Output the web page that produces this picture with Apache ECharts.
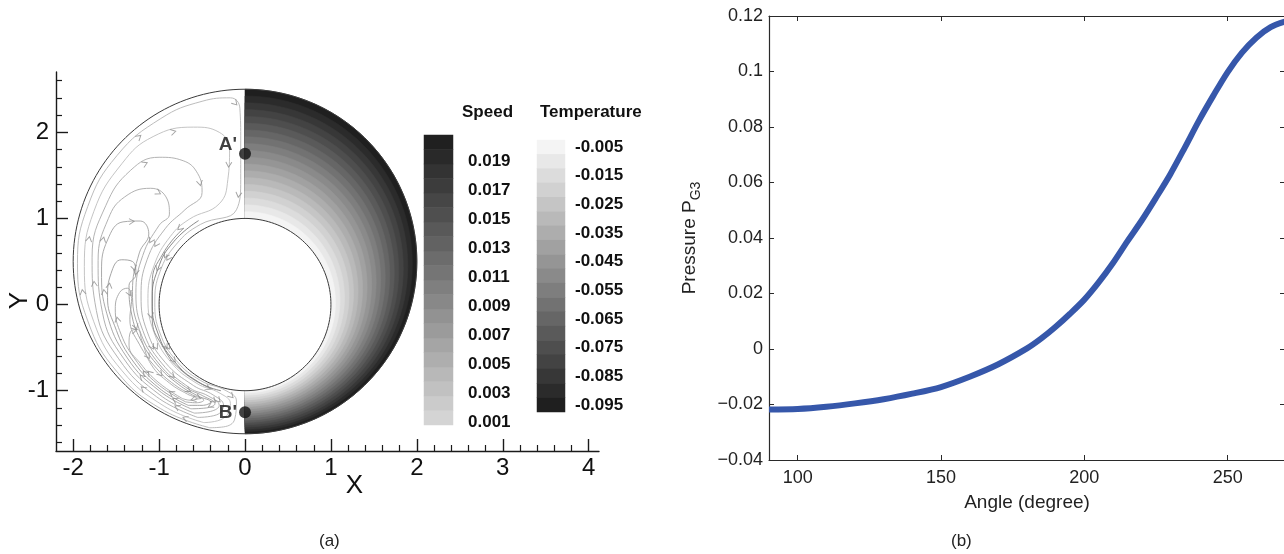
<!DOCTYPE html>
<html>
<head>
<meta charset="utf-8">
<title>Speed / temperature field and pressure P_G3</title>
<script src="https://cdn.jsdelivr.net/npm/echarts@6/dist/echarts.min.js"></script>
<style>
  html, body { margin: 0; padding: 0; background: #fff; }
  #chart { width: 1284px; height: 554px; }
</style>
</head>
<body>
<div id="chart"></div>
<script>
// annulus walls (data units): outer and inner cylinder
const outerWall = { cx: 0, cy: 0.5, r: 2 };
const innerWall = { cx: 0, cy: 0, r: 1 };

// temperature contour levels, lightest (inner wall) to darkest (outer wall)
const tempLevels = [-0.005, -0.010, -0.015, -0.020, -0.025, -0.030, -0.035, -0.040, -0.045, -0.050,
  -0.055, -0.060, -0.065, -0.070, -0.075, -0.080, -0.085, -0.090, -0.095];
// speed colour levels, bottom to top
const speedLevels = [0.001, 0.002, 0.003, 0.004, 0.005, 0.006, 0.007, 0.008, 0.009, 0.010,
  0.011, 0.012, 0.013, 0.014, 0.015, 0.016, 0.017, 0.018, 0.019, 0.020];

// closed streamlines in the left half (x, y)
const streamLoops = [
  [[-0.41, -1.43], [-0.98, -1.21], [-1.49, -0.78], [-1.83, -0.19], [-1.95, 0.48], [-1.83, 1.14],
   [-1.49, 1.73], [-0.98, 2.16], [-0.5, 2.36], [-0.17, 2.4], [-0.06, 2.28], [-0.05, 1.9],
   [-0.05, 1.45], [-0.1, 1.1], [-0.52, 0.93], [-0.8, 0.7], [-0.99, 0.38],
   [-1.05, 0.02], [-0.99, -0.33], [-0.8, -0.65], [-0.52, -0.88], [-0.22, -1.0], [-0.1, -1.12],
   [-0.12, -1.33], [-0.25, -1.42]],
  [[-0.48, -1.37], [-0.94, -1.18], [-1.43, -0.77], [-1.76, -0.2], [-1.87, 0.44], [-1.76, 1.08],
   [-1.43, 1.64], [-1.07, 1.95], [-0.6, 2.06], [-0.3, 2.0], [-0.18, 1.8], [-0.2, 1.45],
   [-0.3, 1.17], [-0.65, 0.99], [-0.87, 0.79], [-1.06, 0.45], [-1.13, 0.07], [-1.06, -0.32],
   [-0.87, -0.66], [-0.57, -0.91], [-0.29, -1.03], [-0.17, -1.15], [-0.25, -1.32]],
  [[-0.55, -1.31], [-1.03, -1.07], [-1.47, -0.63], [-1.73, -0.07], [-1.78, 0.55], [-1.62, 1.15],
   [-1.33, 1.56], [-1.0, 1.71], [-0.72, 1.67], [-0.55, 1.52], [-0.5, 1.3], [-0.7, 1.1],
   [-0.93, 0.88], [-1.14, 0.52], [-1.21, 0.1], [-1.14, -0.31], [-0.93, -0.67], [-0.6, -0.94],
   [-0.37, -1.05], [-0.25, -1.17], [-0.33, -1.28]],
  [[-0.59, -1.26], [-0.99, -1.05], [-1.41, -0.63], [-1.66, -0.09], [-1.71, 0.51], [-1.59, 1.0],
   [-1.4, 1.25], [-1.1, 1.35], [-0.92, 1.25], [-0.88, 1.05], [-1.0, 0.92], [-1.19, 0.57],
   [-1.27, 0.13], [-1.19, -0.3], [-0.97, -0.68], [-0.64, -0.97], [-0.43, -1.06], [-0.3, -1.17],
   [-0.4, -1.24]],
  [[-0.63, -1.21], [-1.0, -1.0], [-1.37, -0.62], [-1.61, -0.1], [-1.67, 0.39], [-1.6, 0.75],
   [-1.42, 0.96], [-1.22, 0.97], [-1.12, 0.82], [-1.23, 0.6], [-1.31, 0.15], [-1.23, -0.29],
   [-1.0, -0.69], [-0.69, -0.96], [-0.49, -1.06], [-0.35, -1.15], [-0.45, -1.2]],
  [[-0.66, -1.17], [-1.0, -0.97], [-1.33, -0.62], [-1.52, -0.24], [-1.6, 0.08], [-1.56, 0.36],
   [-1.44, 0.52], [-1.31, 0.5], [-1.27, 0.35], [-1.35, 0.22], [-1.32, -0.11], [-1.22, -0.4],
   [-1.03, -0.69], [-0.77, -0.93], [-0.55, -1.06], [-0.4, -1.13], [-0.5, -1.17]],
  [[-0.69, -1.13], [-1.02, -0.92], [-1.29, -0.62], [-1.46, -0.3], [-1.51, -0.05], [-1.46, 0.14],
   [-1.37, 0.19], [-1.32, 0.07], [-1.34, -0.17], [-1.23, -0.46], [-1.03, -0.74], [-0.82, -0.93],
   [-0.61, -1.05], [-0.48, -1.11], [-0.57, -1.14]],
  [[-0.73, -1.09], [-1.0, -0.91], [-1.22, -0.68], [-1.35, -0.47], [-1.33, -0.31], [-1.25, -0.29],
   [-1.2, -0.42], [-1.09, -0.7], [-0.88, -0.91], [-0.67, -1.04], [-0.56, -1.09], [-0.64, -1.11]]
];
// fast streaks that hug the inner wall (open lines)
const wallStreaks = [
  [[-0.54, 0.975], [-0.83, 0.73], [-1.015, 0.41], [-1.08, 0.04], [-1.015, -0.33], [-0.83, -0.65],
   [-0.54, -0.9], [-0.28, -1.0]],
  [[-0.71, 0.89], [-0.95, 0.6], [-1.08, 0.24], [-1.08, -0.14], [-0.95, -0.5], [-0.71, -0.79],
   [-0.38, -0.98]]
];
const loopGrays = ['#b4b4b4', '#bdbdbd', '#aaaaaa', '#a8a8a8', '#a0a0a0', '#9a9a9a', '#a4a4a4', '#aaaaaa'];
const streakGrays = ['#6a6a6a', '#7a7a7a'];

// marked points on the symmetry line
const markerPoints = [
  { name: "A'", value: [0, 1.75] },
  { name: "B'", value: [0, -1.25] }
];

// pressure P_G3 along the wall, panel (b)
const pressureAngle = [90, 100, 110, 120, 130, 140, 150, 160, 170, 180, 185, 190, 195, 200, 205,
  210, 215, 220, 225, 230, 235, 240, 245, 250, 255, 260, 265, 270];
const pressureValue = [-0.0218, -0.0216, -0.0208, -0.0196, -0.0181, -0.0161, -0.0137, -0.0100,
  -0.0055, 0.0002, 0.0038, 0.0080, 0.0127, 0.0178, 0.0240, 0.0310, 0.0388, 0.0463, 0.0545,
  0.0630, 0.0725, 0.0823, 0.0913, 0.0998, 0.1068, 0.1122, 0.1160, 0.1180];

const FONT = 'Liberation Sans';
const chart = echarts.init(document.getElementById('chart'), null, { renderer: 'canvas' });

function circlePoints(api, cx, cy, r, a0, a1, step) {
  const pts = [];
  for (let a = a0; a <= a1 + 1e-9; a += step) {
    const t = a * Math.PI / 180;
    pts.push(api.coord([cx + r * Math.cos(t), cy + r * Math.sin(t)]));
  }
  return pts;
}

// arrow heads at the middle of some streamline segments, pointing along the flow
const arrowData = [];
function addArrows(line, first, every) {
  for (let i = first; i < line.length; i += every) {
    const p = line[i - 1], q = line[i];
    const ang = Math.atan2(q[1] - p[1], q[0] - p[0]) * 180 / Math.PI;
    arrowData.push([(p[0] + q[0]) / 2, (p[1] + q[1]) / 2, ang - 90]);
  }
}
streamLoops.forEach(function (loop, li) { addArrows(loop, 1 + (li % 2), 3); });
wallStreaks.forEach(function (line) { addArrows(line, 2, 3); });

const series = [];
// 0: temperature field, right half of the annulus
series.push({
  type: 'custom',
  xAxisIndex: 0, yAxisIndex: 0,
  silent: true,
  clip: false,
  z: 1,
  data: tempLevels.map(function (v, k) { return [0, 0, v, (k + 1) / tempLevels.length]; }).reverse(),
  renderItem: function (params, api) {
    const s = api.value(3);
    const cy = innerWall.cy + (outerWall.cy - innerWall.cy) * s;
    const r = innerWall.r + (outerWall.r - innerWall.r) * s;
    const color = api.visual('color');
    return {
      type: 'polygon',
      shape: { points: circlePoints(api, 0, cy, r, -90, 90, 3) },
      style: { fill: color, stroke: color, lineWidth: 0.6 }
    };
  }
});
// 1: walls
series.push({
  type: 'custom',
  xAxisIndex: 0, yAxisIndex: 0,
  silent: true,
  clip: false,
  z: 2,
  data: [[0, 0]],
  renderItem: function (params, api) {
    return {
      type: 'group',
      children: [
        {
          type: 'polygon',
          shape: { points: circlePoints(api, outerWall.cx, outerWall.cy, outerWall.r, 0, 360, 2) },
          style: { fill: 'none', stroke: '#3a3a3a', lineWidth: 1 }
        },
        {
          type: 'polygon',
          shape: { points: circlePoints(api, innerWall.cx, innerWall.cy, innerWall.r, 0, 360, 2) },
          style: { fill: '#ffffff', stroke: '#3a3a3a', lineWidth: 1 }
        }
      ]
    };
  }
});
// streamlines
streamLoops.forEach(function (loop, li) {
  series.push({
    type: 'line',
    xAxisIndex: 0, yAxisIndex: 0,
    silent: true,
    z: 3,
    smooth: 0.45,
    showSymbol: false,
    data: loop.concat([loop[0]]),
    lineStyle: { color: loopGrays[li], width: 0.9 }
  });
});
wallStreaks.forEach(function (line, li) {
  series.push({
    type: 'line',
    xAxisIndex: 0, yAxisIndex: 0,
    silent: true,
    z: 3,
    smooth: 0.5,
    showSymbol: false,
    data: line,
    lineStyle: { color: streakGrays[li], width: 0.8 }
  });
});
// arrow heads
series.push({
  type: 'scatter',
  xAxisIndex: 0, yAxisIndex: 0,
  silent: true,
  z: 4,
  symbol: 'path://M0,8L5,0L10,8',
  symbolSize: [6, 5],
  symbolRotate: function (val) { return val[2]; },
  itemStyle: { color: 'none', borderColor: '#8c8c8c', borderWidth: 0.9 },
  data: arrowData
});
// A' and B'
series.push({
  type: 'scatter',
  xAxisIndex: 0, yAxisIndex: 0,
  silent: true,
  z: 5,
  symbolSize: 12,
  itemStyle: { color: '#111' },
  label: {
    show: true, position: 'left', distance: 2,
    formatter: '{b}', fontFamily: FONT, fontWeight: 'bold', fontSize: 19, color: '#111'
  },
  labelLayout: function (p) { return { dy: p.dataIndex === 0 ? -9 : 1 }; },
  data: markerPoints
});
const speedBarIndex = series.length;
series.push({
  type: 'heatmap',
  xAxisIndex: 1, yAxisIndex: 1,
  silent: true,
  data: speedLevels.map(function (v, i) { return [0, i, v]; })
});
const tempBarIndex = series.length;
series.push({
  type: 'heatmap',
  xAxisIndex: 2, yAxisIndex: 2,
  silent: true,
  data: tempLevels.map(function (v, i) { return [0, i, v]; })
});
series.push({
  type: 'line',
  xAxisIndex: 3, yAxisIndex: 3,
  silent: true,
  smooth: 0.3,
  showSymbol: false,
  data: pressureAngle.map(function (a, i) { return [a, pressureValue[i]]; }),
  lineStyle: { color: '#3657aa', width: 6 }
});

const blackLine = { show: true, onZero: false, lineStyle: { color: '#1a1a1a', width: 1.4 } };
const boxLine = { show: true, onZero: false, lineStyle: { color: '#2a2a2a', width: 1.2 } };
const hidden = { show: false };
const minusFmt = function (v) { return String(+v.toFixed(3)).replace('-', '\u2212'); };

chart.setOption({
  animation: false,
  backgroundColor: '#ffffff',
  textStyle: { fontFamily: FONT },
  grid: [
    { left: 56, top: 72, width: 543, height: 379, outerBoundsMode: 'none' },
    { left: 424, top: 135, width: 29, height: 290, outerBoundsMode: 'none' },
    { left: 537, top: 140, width: 28, height: 272, outerBoundsMode: 'none' },
    { left: 769, top: 16, width: 516, height: 444, outerBoundsMode: 'none' }
  ],
  xAxis: [
    {
      type: 'value', gridIndex: 0, min: -2.2, max: 4.12,
      name: 'X', nameLocation: 'middle', nameGap: 22, nameMoveOverlap: false,
      nameTextStyle: { fontFamily: FONT, fontSize: 26, color: '#111', padding: [0, 0, 0, 54] },
      axisLine: blackLine,
      axisTick: { show: true, inside: true, length: 12, lineStyle: { color: '#1a1a1a', width: 1.4 }, customValues: [-2, -1, 0, 1, 2, 3, 4] },
      minorTick: { show: true, splitNumber: 5, length: 6, lineStyle: { color: '#1a1a1a', width: 1.2 } },
      axisLabel: { fontFamily: FONT, fontSize: 24, color: '#111', margin: 5, customValues: [-2, -1, 0, 1, 2, 3, 4] },
      splitLine: hidden
    },
    { type: 'category', gridIndex: 1, data: ['speed'], show: false },
    { type: 'category', gridIndex: 2, data: ['temperature'], show: false },
    {
      type: 'value', gridIndex: 3, min: 90, max: 270,
      name: 'Angle (degree)', nameLocation: 'middle', nameGap: 33,
      nameTextStyle: { fontFamily: FONT, fontSize: 19, color: '#222' },
      axisLine: boxLine,
      axisTick: { show: true, inside: true, length: 5, lineStyle: { color: '#2a2a2a' }, customValues: [100, 150, 200, 250] },
      axisLabel: { fontFamily: FONT, fontSize: 18, color: '#222', margin: 9, customValues: [100, 150, 200, 250] },
      splitLine: hidden
    },
    {
      type: 'value', gridIndex: 3, min: 90, max: 270, position: 'top',
      axisLine: boxLine,
      axisTick: { show: true, inside: true, length: 5, lineStyle: { color: '#2a2a2a' }, customValues: [100, 150, 200, 250] },
      axisLabel: hidden, splitLine: hidden
    }
  ],
  yAxis: [
    {
      type: 'value', gridIndex: 0, min: -1.7, max: 2.7,
      name: 'Y', nameLocation: 'middle', nameGap: 23, nameRotate: 90, nameMoveOverlap: false,
      nameTextStyle: { fontFamily: FONT, fontSize: 26, color: '#111', padding: [0, 78, 0, 0] },
      axisLine: blackLine,
      axisTick: { show: true, inside: true, length: 12, lineStyle: { color: '#1a1a1a', width: 1.4 }, customValues: [-1, 0, 1, 2] },
      minorTick: { show: true, splitNumber: 5, length: 6, lineStyle: { color: '#1a1a1a', width: 1.2 } },
      axisLabel: { fontFamily: FONT, fontSize: 24, color: '#111', margin: 7, customValues: [-1, 0, 1, 2] },
      splitLine: hidden
    },
    {
      type: 'category', gridIndex: 1, position: 'right',
      data: speedLevels.map(function (v) { return v.toFixed(3); }),
      axisLine: hidden, axisTick: hidden, splitLine: hidden,
      axisLabel: { interval: 1, margin: 15, verticalAlign: 'top', lineHeight: 9, fontFamily: FONT, fontWeight: 'bold', fontSize: 17, color: '#111' }
    },
    {
      type: 'category', gridIndex: 2, position: 'right', inverse: true,
      data: tempLevels.map(function (v) { return v.toFixed(3); }),
      axisLine: hidden, axisTick: hidden, splitLine: hidden,
      axisLabel: { interval: 1, margin: 10, fontFamily: FONT, fontWeight: 'bold', fontSize: 17, color: '#111' }
    },
    {
      type: 'value', gridIndex: 3, min: -0.04, max: 0.12, interval: 0.02,
      name: '{a|Pressure P}{s|G3}', nameLocation: 'middle', nameGap: 66, nameRotate: 90,
      nameTextStyle: {
        fontFamily: FONT, color: '#222',
        rich: {
          a: { fontFamily: FONT, fontSize: 19, color: '#222' },
          s: { fontFamily: FONT, fontSize: 14, color: '#222', padding: [12, 0, 0, 0] }
        }
      },
      axisLine: boxLine,
      axisTick: { show: true, inside: true, length: 5, lineStyle: { color: '#2a2a2a' } },
      axisLabel: { fontFamily: FONT, fontSize: 18, color: '#222', margin: 6, formatter: minusFmt },
      splitLine: hidden
    },
    {
      type: 'value', gridIndex: 3, min: -0.04, max: 0.12, interval: 0.02, position: 'right',
      axisLine: boxLine,
      axisTick: { show: true, inside: true, length: 5, lineStyle: { color: '#2a2a2a' } },
      axisLabel: hidden, splitLine: hidden
    }
  ],
  visualMap: [
    {
      type: 'continuous', show: false, dimension: 2,
      seriesIndex: [0, tempBarIndex],
      min: -0.095, max: -0.005,
      inRange: { color: ['#1f1f1f', '#f4f4f4'] }
    },
    {
      type: 'continuous', show: false, dimension: 2,
      seriesIndex: [speedBarIndex],
      min: 0.001, max: 0.020,
      inRange: { color: ['#d4d4d4', '#202020'] }
    }
  ],
  graphic: [
    { type: 'text', left: 462, top: 104, style: { text: 'Speed', font: 'bold 17px "Liberation Sans"', fill: '#111' } },
    { type: 'text', left: 540, top: 104, style: { text: 'Temperature', font: 'bold 17px "Liberation Sans"', fill: '#111' } },
    { type: 'text', left: 319, top: 533, style: { text: '(a)', font: '17px "Liberation Sans"', fill: '#222' } },
    { type: 'text', left: 951, top: 533, style: { text: '(b)', font: '17px "Liberation Sans"', fill: '#222' } }
  ],
  series: series
});
</script>
</body>
</html>
